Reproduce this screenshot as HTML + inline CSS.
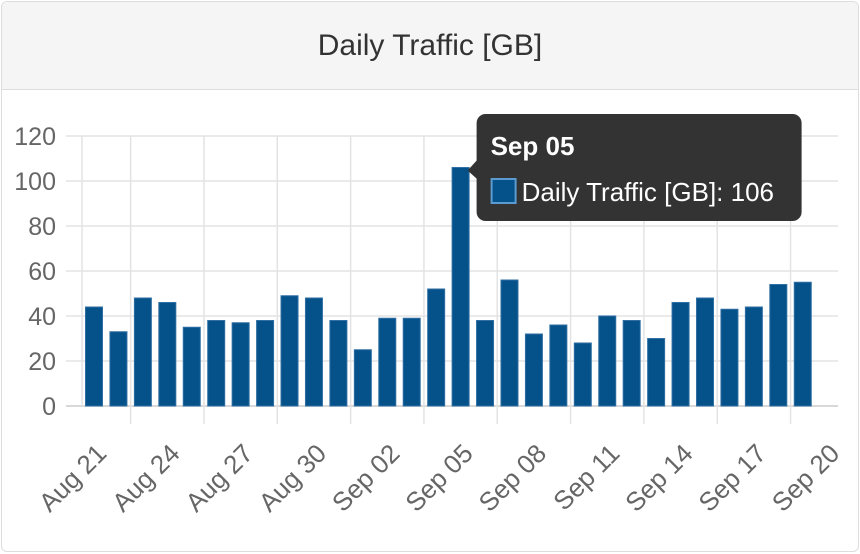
<!DOCTYPE html>
<html><head><meta charset="utf-8"><style>
body{margin:0;width:860px;height:554px;background:#fff;font-family:"Liberation Sans",sans-serif;overflow:hidden}
.card{position:absolute;left:1px;top:1px;width:856px;height:549px;border:1px solid #ddd;border-radius:6px;overflow:hidden}
.head{position:absolute;left:0;top:0;width:856px;height:87px;background:#f5f5f5;border-bottom:1px solid #ddd}
.title{position:absolute;left:0;width:856px;top:27px;text-align:center;font-size:30px;color:#333}
svg{position:absolute;left:0;top:0}
</style></head><body>
<div class="card">
<div class="head"><div class="title">Daily Traffic [GB]</div></div>
</div>
<svg id="c" width="860" height="554"></svg>
<script>
const categories=["Aug 21","Aug 22","Aug 23","Aug 24","Aug 25","Aug 26","Aug 27","Aug 28","Aug 29","Aug 30","Aug 31","Sep 01","Sep 02","Sep 03","Sep 04","Sep 05","Sep 06","Sep 07","Sep 08","Sep 09","Sep 10","Sep 11","Sep 12","Sep 13","Sep 14","Sep 15","Sep 16","Sep 17","Sep 18","Sep 19"];
const values=[44,33,48,46,35,38,37,38,49,48,38,25,39,39,52,106,38,56,32,36,28,40,38,30,46,48,43,44,54,55];
const yTicks=[0,20,40,60,80,100,120];
const xTickLabels=["Aug 21","Aug 24","Aug 27","Aug 30","Sep 02","Sep 05","Sep 08","Sep 11","Sep 14","Sep 17","Sep 20"];
const NS="http://www.w3.org/2000/svg",svg=document.getElementById('c');
function mk(t,a,p){const e=document.createElementNS(NS,t);for(const k in a)e.setAttribute(k,a[k]);(p||svg).appendChild(e);return e;}
const y=v=>406-v*2.25, step=24.44, x=i=>94+step*i;
const grid=mk('g',{});


yTicks.forEach(t=>{
 mk('line',{x1:66,x2:838,y1:y(t),y2:y(t),stroke:t==0?'#ccc':'#e3e3e3','stroke-width':1.5},grid);
 const l=mk('text',{x:56,y:y(t)+9,'text-anchor':'end','font-size':25,fill:'#666'});
 l.textContent=t;
 
 
});
mk('line',{x1:82,x2:82,y1:136,y2:406,stroke:'#e3e3e3','stroke-width':1.5},grid);
for(let k=0;k<10;k++){const gx=x(1)+step/2+3*step*k;mk('line',{x1:gx,x2:gx,y1:136,y2:424,stroke:'#e3e3e3','stroke-width':1.5},grid);}
xTickLabels.forEach((t,k)=>{
 const ex=108+73.3*k, ey=455;
 const l=mk('text',{x:ex,y:ey,'text-anchor':'end','font-size':26,fill:'#666',transform:`rotate(-45 ${ex} ${ey})`});
 l.textContent=t;
 
 
});
values.forEach((v,i)=>{
 const r=mk('rect',{x:x(i)-8.5,y:y(v),width:17,height:y(0)-y(v),fill:'#05528a',stroke:'#2f6fa3','stroke-width':1});
 
 
});
const mi=values.indexOf(Math.max(...values));
const tg=mk('g',{});


const tx=x(mi)+7, ty=y(values[mi]);
mk('path',{d:`M${tx} ${ty+3} L${tx+10} ${ty-8} L${tx+10} ${ty+12} Z`,fill:'#333'},tg);
mk('rect',{x:tx+9,y:114,width:325,height:107,rx:9,fill:'#333'},tg);
const t1=mk('text',{x:tx+23,y:155,'font-size':26,'font-weight':'bold',fill:'#fff'},tg);t1.textContent=categories[mi];
mk('rect',{x:tx+24,y:179,width:24,height:24,fill:'#05528a',stroke:'#5b9bd0','stroke-width':2},tg);
const t2=mk('text',{x:tx+54,y:201,'font-size':26,fill:'#fff'},tg);t2.textContent='Daily Traffic [GB]: '+values[mi];
</script>
</body></html>
